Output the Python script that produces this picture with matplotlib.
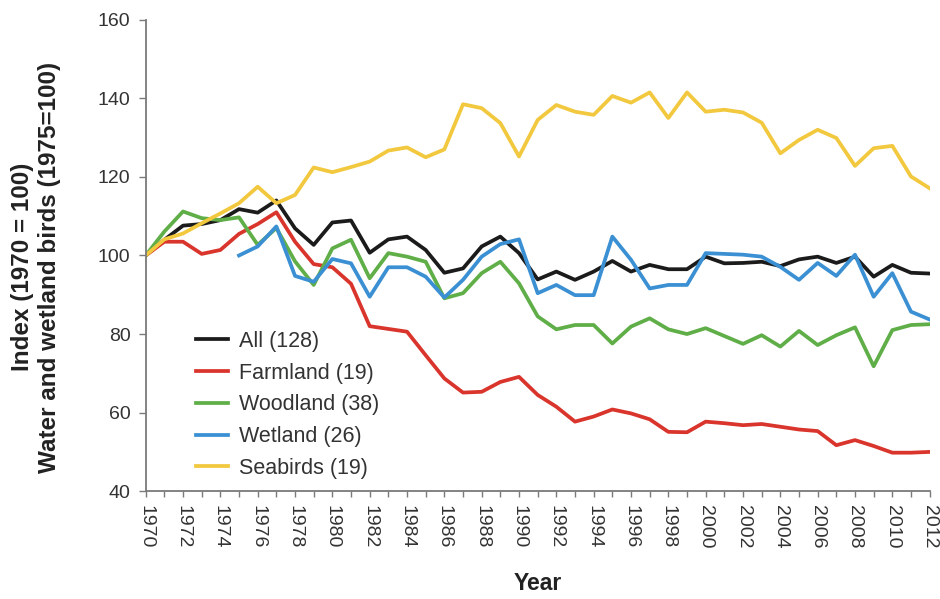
import matplotlib
matplotlib.use("Agg")
import matplotlib.pyplot as plt

plt.rcParams['font.family'] = ['Liberation Sans', 'DejaVu Sans']

# years on the x axis
years = list(range(1970, 2013))

# index values (1970 = 100, wetland 1975 = 100)
all_birds = [100, 104, 107.6, 108, 109, 111.8, 110.9, 114, 106.9, 102.7,
             108.4, 108.9, 100.7, 104.1, 104.8, 101.4, 95.6, 96.7, 102.3, 104.8,
             100.6, 93.9, 95.9, 93.8, 95.9, 98.6, 95.9, 97.6, 96.5, 96.5,
             99.7, 98, 98.1, 98.4, 97.3, 99, 99.7, 98.1, 99.7, 94.6,
             97.6, 95.6, 95.4]
farmland = [100, 103.5, 103.5, 100.4, 101.4, 105.5, 108, 111, 103.5, 97.8,
            97, 92.8, 82, 81.3, 80.6, 74.6, 68.7, 65.1, 65.3, 67.8,
            69.1, 64.5, 61.5, 57.7, 59, 60.8, 59.8, 58.3, 55.1, 55,
            57.7, 57.3, 56.8, 57.1, 56.4, 55.7, 55.3, 51.7, 53, 51.5,
            49.8, 49.8, 50]
woodland = [100, 106.1, 111.2, 109.5, 109, 109.7, 102.7, 107, 98.5, 92.5,
            101.8, 104, 94.2, 100.6, 99.7, 98.4, 89.1, 90.4, 95.5, 98.4,
            92.9, 84.5, 81.2, 82.3, 82.3, 77.6, 81.9, 84, 81.2, 80,
            81.5, 79.5, 77.5, 79.7, 76.8, 80.8, 77.2, 79.7, 81.7, 71.8,
            81, 82.3, 82.5]
wetland_years = list(range(1975, 2013))
wetland = [100, 102.3, 107.4, 94.8, 93.3,
           99.1, 98, 89.5, 97, 97, 94.6, 89.3, 93.8, 99.7, 102.9,
           104.1, 90.4, 92.5, 89.9, 89.9, 104.8, 98.9, 91.6, 92.5, 92.5,
           100.6, 100.4, 100.2, 99.7, 97.1, 93.8, 98.1, 94.8, 100.2, 89.5,
           95.5, 85.7, 83.7]
seabirds = [100, 104.1, 105.6, 108.2, 110.7, 113.3, 117.5, 113.3, 115.4, 122.4,
            121.2, 122.5, 123.9, 126.7, 127.5, 125, 127, 138.5, 137.5, 133.7,
            125.2, 134.5, 138.3, 136.6, 135.8, 140.6, 138.9, 141.5, 135, 141.5,
            136.6, 137.1, 136.4, 133.8, 126, 129.4, 132, 129.9, 122.8, 127.3,
            127.9, 120.1, 117.1]

fig = plt.figure(figsize=(9.4, 5.99), dpi=100)
ax = fig.add_axes([0.155, 0.18, 0.834, 0.787])

lw = 2.7
ax.plot(years, all_birds, color='#1b1b1b', lw=lw, label='All (128)')
ax.plot(years, farmland, color='#d9352c', lw=lw, label='Farmland (19)')
ax.plot(years, woodland, color='#5fae48', lw=lw, label='Woodland (38)')
ax.plot(wetland_years, wetland, color='#3b90d3', lw=lw, label='Wetland (26)')
ax.plot(years, seabirds, color='#f2c83e', lw=lw, label='Seabirds (19)')

ax.set_xlim(1970, 2012)
ax.set_ylim(40, 160)

# axes look: grey left and bottom spines only
grey = '#7a7a7a'
for side in ['top', 'right']:
    ax.spines[side].set_visible(False)
for side in ['left', 'bottom']:
    ax.spines[side].set_color(grey)
    ax.spines[side].set_linewidth(1.3)

ax.set_yticks(range(40, 161, 20))
ax.set_xticks(years)
ax.set_xticklabels([str(y) if y % 2 == 0 else '' for y in years], rotation=270)
ax.tick_params(axis='y', direction='out', length=5, width=1, color=grey,
               labelsize=14, labelcolor='#333333', pad=6)
ax.tick_params(axis='x', direction='out', length=4, width=1, color=grey,
               labelsize=14, labelcolor='#333333', pad=6)

ax.set_xlabel('Year', fontsize=16.5, fontweight='bold', color='#222222', labelpad=17)
ax.set_ylabel('Index (1970 = 100)\nWater and wetland birds (1975=100)',
              fontsize=17.5, fontweight='bold', color='#222222',
              linespacing=1.2)
# label sits a little below the axes centre in the original
ax.yaxis.set_label_coords(-0.108, 0.475)

ax.legend(loc='upper left', bbox_to_anchor=(0.064, 0.34), frameon=False,
          fontsize=15.5, handlelength=1.5, handletextpad=0.5, labelspacing=0.5,
          borderpad=0, borderaxespad=0, labelcolor='#333333')

fig.savefig('out.png', dpi=100)
